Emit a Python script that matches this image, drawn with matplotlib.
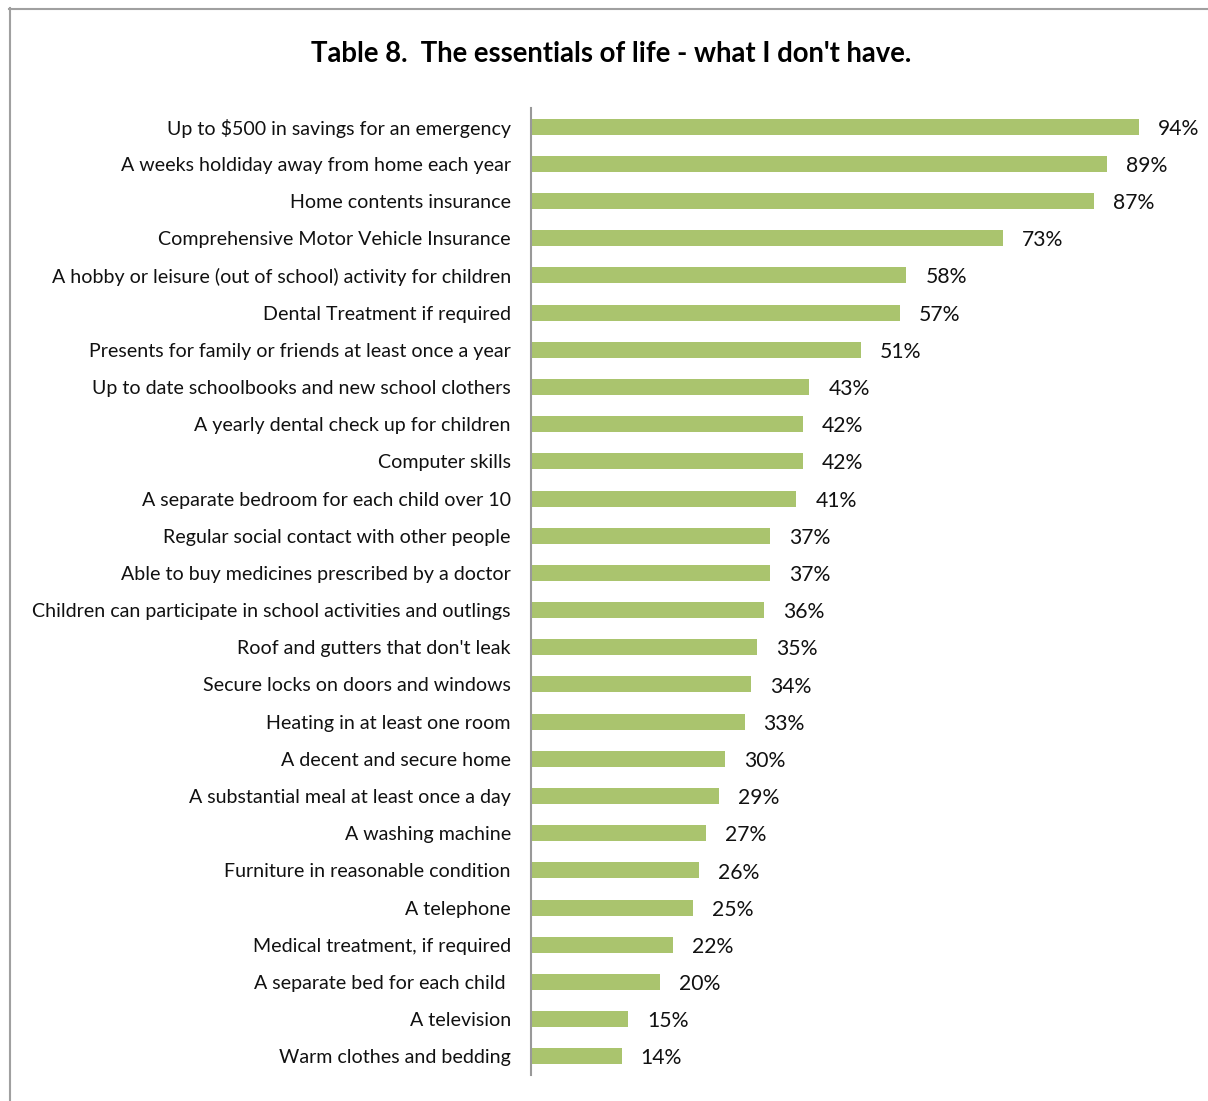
import matplotlib.pyplot as plt
from matplotlib.lines import Line2D

# data, top to bottom as in the picture
items = [
    "Up to $500 in savings for an emergency",
    "A weeks holdiday away from home each year",
    "Home contents insurance",
    "Comprehensive Motor Vehicle Insurance",
    "A hobby or leisure (out of school) activity for children",
    "Dental Treatment if required",
    "Presents for family or friends at least once a year",
    "Up to date schoolbooks and new school clothers",
    "A yearly dental check up for children",
    "Computer skills",
    "A separate bedroom for each child over 10",
    "Regular social contact with other people",
    "Able to buy medicines prescribed by a doctor",
    "Children can participate in school activities and outlings",
    "Roof and gutters that don't leak",
    "Secure locks on doors and windows",
    "Heating in at least one room",
    "A decent and secure home",
    "A substantial meal at least once a day",
    "A washing machine",
    "Furniture in reasonable condition",
    "A telephone",
    "Medical treatment, if required",
    "A separate bed for each child ",
    "A television",
    "Warm clothes and bedding",
]
pct = [94, 89, 87, 73, 58, 57, 51, 43, 42, 42, 41, 37, 37, 36, 35, 34, 33,
       30, 29, 27, 26, 25, 22, 20, 15, 14]

plt.rcParams['font.family'] = ['Lato', 'DejaVu Sans']

W, H = 1208, 1101
fig = plt.figure(figsize=(W / 100, H / 100), dpi=100)

ax = fig.add_axes([531 / W, (H - 1075) / H, 647 / W, 967 / H])
ypos = list(range(len(items)))
ax.barh(ypos, pct, height=0.43, color='#aac46e', edgecolor='none')
ax.set_ylim(len(items) - 0.5, -0.5)
ax.set_xlim(0, 100)

ax.set_yticks(ypos)
ax.set_yticklabels(items, fontsize=14.1, color='#111111')
ax.tick_params(axis='y', length=0, pad=14.5)
ax.set_xticks([])
for s in ['top', 'right', 'bottom']:
    ax.spines[s].set_visible(False)
ax.spines['left'].set_color('#999999')
ax.spines['left'].set_linewidth(1.5)

for y, v in zip(ypos, pct):
    ax.annotate(f"{v}%", (v, y), xytext=(13.7, -1.5), textcoords='offset points',
                va='center', ha='left', fontsize=15.2, color='#111111')

fig.text(611 / W, 1 - 54 / H, "Table 8.  The essentials of life - what I don't have.",
         ha='center', va='center', fontsize=19.8, fontweight='bold')

# chart border (left and top edges visible)
fig.add_artist(Line2D([9.5 / W, 9.5 / W], [0, 1 - 8 / H], transform=fig.transFigure,
                      color='#a0a0a0', lw=1.5))
fig.add_artist(Line2D([9 / W, 1], [1 - 8.5 / H, 1 - 8.5 / H], transform=fig.transFigure,
                      color='#a0a0a0', lw=1.5))

fig.savefig('out.png', dpi=100)
